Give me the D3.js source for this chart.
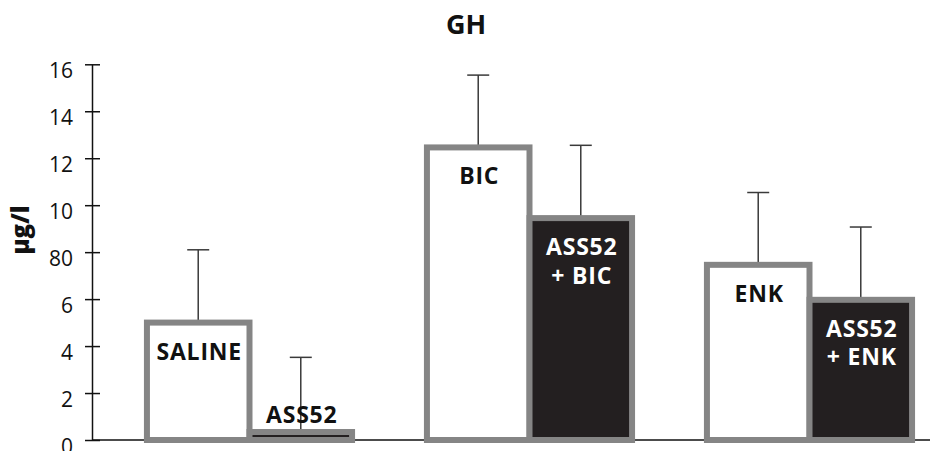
<!DOCTYPE html>
<html>
<head>
<meta charset="utf-8">
<script src="https://cdn.jsdelivr.net/npm/d3@7"></script>
<style>
  html, body { margin: 0; padding: 0; background: #fff; }
  svg { display: block; }
</style>
</head>
<body>
<svg id="chart" width="930" height="451"></svg>
<script>
// ---- data ----
const groups = ["SALINE", "BIC", "ENK"];
const controlValues = [5.0, 12.46, 7.46];
const controlErrors = [3.1, 3.08, 3.08];
const treatedValues = [0.34, 9.45, 5.97];
const treatedErrors = [3.18, 3.1, 3.1];
const controlLabels = [["SALINE"], ["BIC"], ["ENK"]];
const treatedLabels = [["ASS52"], ["ASS52", "+ BIC"], ["ASS52", "+ ENK"]];
const tickValues = [0, 2, 4, 6, 8, 10, 12, 14, 16];
const tickLabels = ["0", "2", "4", "6", "80", "10", "12", "14", "16"];
const title = "GH";
const yTitle = "µg/l";

// ---- layout ----
const W = 930, H = 451;
const axisX = 92, yTop = 64.3, yBottom = 440;
const svg = d3.select("#chart");
const font = "'Open Sans', 'DejaVu Sans', sans-serif";

const y = d3.scaleLinear().domain([0, 16]).range([yBottom, yTop]);
const x0 = d3.scaleBand().domain(groups).range([109.5, 949.5])
  .paddingInner(0.246).paddingOuter(0.123);
const series = ["control", "treated"];
const x1 = d3.scaleBand().domain(series).range([3, x0.bandwidth() - 3]);

const rows = [];
groups.forEach((g, i) => {
  rows.push({g, s: "control", v: controlValues[i], e: controlErrors[i], lab: controlLabels[i]});
  rows.push({g, s: "treated", v: treatedValues[i], e: treatedErrors[i], lab: treatedLabels[i]});
});

// title
svg.append("text").attr("x", W / 2 + 1).attr("y", 34)
  .attr("text-anchor", "middle").attr("font-family", font)
  .attr("font-weight", 700).attr("font-size", 27).attr("fill", "#111")
  .text(title);

// y-axis title
svg.append("text").attr("transform", `translate(29,230) rotate(-90)`)
  .attr("text-anchor", "middle").attr("font-family", font)
  .attr("font-weight", 800).attr("font-size", 24).attr("fill", "#111")
  .text(yTitle);

// x axis line
svg.append("line").attr("x1", axisX).attr("x2", W)
  .attr("y1", y(0)).attr("y2", y(0))
  .attr("stroke", "#111").attr("stroke-width", 1.5);

// y axis
const yAxis = d3.axisLeft(y).tickValues(tickValues)
  .tickFormat((d, i) => tickLabels[i]).tickSize(7).tickSizeOuter(0).tickPadding(12);
const gy = svg.append("g").attr("transform", `translate(${axisX},0)`).call(yAxis);
gy.select(".domain").attr("stroke", "#111").attr("stroke-width", 1.5);
gy.selectAll(".tick line").attr("x2", -7).attr("x1", 8).attr("stroke", "#111").attr("stroke-width", 1.5);
gy.selectAll(".tick text").attr("font-family", font).attr("font-size", 21)
  .attr("fill", "#111").attr("dy", "0.62em");

// error bars
const capW = 11;
const eg = svg.append("g");
rows.forEach(r => {
  const cx = x0(r.g) + x1(r.s) + x1.bandwidth() / 2;
  eg.append("line").attr("x1", cx).attr("x2", cx)
    .attr("y1", y(r.v)).attr("y2", y(r.v + r.e))
    .attr("stroke", "#3a3a3a").attr("stroke-width", 1.5);
  eg.append("line").attr("x1", cx - capW).attr("x2", cx + capW)
    .attr("y1", y(r.v + r.e)).attr("y2", y(r.v + r.e))
    .attr("stroke", "#3a3a3a").attr("stroke-width", 1.5);
});

// bars
const bg = svg.append("g");
rows.forEach(r => {
  bg.append("rect")
    .attr("x", x0(r.g) + x1(r.s))
    .attr("y", y(r.v))
    .attr("width", x1.bandwidth())
    .attr("height", y(0) - y(r.v))
    .attr("fill", r.s === "control" ? "#ffffff" : "#231f20")
    .attr("stroke", "#858585").attr("stroke-width", 6);
});

// labels
const lg = svg.append("g");
rows.forEach(r => {
  const cx = x0(r.g) + x1(r.s) + x1.bandwidth() / 2;
  const small = (y(0) - y(r.v)) < 40;
  const n = r.lab.length;
  r.lab.forEach((t, k) => {
    const base = small ? y(r.v) - 9 - (n - 1 - k) * 28.5 : y(r.v) + 37 + k * 28.5;
    lg.append("text").attr("x", cx + 1).attr("y", base)
      .attr("text-anchor", "middle").attr("font-family", font)
      .attr("font-weight", 700).attr("font-size", 23)
      .attr("letter-spacing", 0.8)
      .attr("fill", (r.s === "treated" && !small) ? "#ffffff" : "#111")
      .attr("xml:space", "preserve")
      .text(t);
  });
});
</script>
</body>
</html>
